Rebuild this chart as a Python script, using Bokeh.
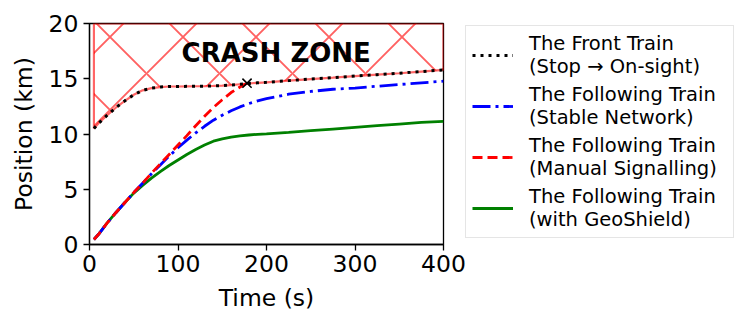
from bokeh.plotting import figure
from bokeh.models import Legend, LegendItem, FixedTicker
from bokeh.core.properties import value
from bokeh.embed import file_html
from bokeh.resources import INLINE

# ---- data ----
t_front = [5, 10, 20, 30, 40, 50, 60, 70, 80, 90, 100, 110, 120, 130, 140, 150,
           160, 170, 180, 190, 200, 225, 250, 275, 300, 325, 350, 375, 400]
front = [10.5, 10.95, 11.7, 12.4, 13.0, 13.55, 13.95, 14.15, 14.25, 14.3, 14.3, 14.31,
         14.32, 14.33, 14.35, 14.38, 14.43, 14.5, 14.57, 14.63, 14.68, 14.83, 14.97,
         15.1, 15.24, 15.37, 15.5, 15.65, 15.8]

t_follow = [5, 10, 20, 30, 40, 50, 60, 70, 80, 90, 100, 110, 120, 130, 140, 150,
            160, 170, 180, 190, 200, 225, 250, 275, 300, 325, 350, 375, 400]
stable = [0.45, 0.9, 1.95, 2.9, 3.8, 4.7, 5.55, 6.4, 7.2, 8.0, 8.75, 9.45, 10.1, 10.7,
          11.25, 11.7, 12.1, 12.45, 12.75, 13.0, 13.2, 13.6, 13.85, 14.05, 14.15,
          14.32, 14.48, 14.63, 14.78]
geoshield = [0.45, 0.9, 1.95, 2.9, 3.8, 4.65, 5.35, 6.0, 6.6, 7.15, 7.65, 8.15, 8.6,
             9.0, 9.35, 9.55, 9.72, 9.83, 9.91, 9.97, 10.02, 10.15, 10.3, 10.45, 10.6,
             10.75, 10.9, 11.05, 11.15]

t_manual = [5, 10, 20, 30, 40, 50, 60, 70, 80, 90, 100, 110, 120, 130, 140, 150,
            160, 170, 178]
manual = [0.45, 0.9, 1.95, 2.9, 3.8, 4.7, 5.55, 6.45, 7.3, 8.15, 9.0, 9.85, 10.75,
          11.6, 12.4, 13.1, 13.75, 14.25, 14.6]

crash_t = [178]
crash_y = [14.6]

zone_top = 20
zone_label = "CRASH ZONE"
zone_label_pos = (211, 17.3)

x_ticks = [0, 100, 200, 300, 400]
y_ticks = [0, 5, 10, 15, 20]

labels = ["The Front Train\n(Stop \u2192 On-sight)",
          "The Following Train\n(Stable Network)",
          "The Following Train\n(Manual Signalling)",
          "The Following Train\n(with GeoShield)"]

FONT = "DejaVu Sans"

p = figure(frame_width=354, frame_height=221, min_border_left=89, min_border_right=304,
           min_border_top=23, min_border_bottom=82,
           x_range=(0, 400), y_range=(0, 20),
           output_backend="svg", toolbar_location=None)

p.xgrid.visible = False
p.ygrid.visible = False
p.outline_line_color = "black"
p.outline_line_width = 1.3
p.background_fill_color = "white"
p.border_fill_color = "white"

# crash zone (hatched)
zx = t_front + [t_front[-1], t_front[0]]
zy = front + [zone_top, zone_top]
p.patch(zx, zy, fill_color=None, hatch_pattern="x",
        hatch_color="red", hatch_alpha=0.62, hatch_scale=73, hatch_weight=1.9,
        line_color="red", line_alpha=0.6, line_width=2.2)

lw = 2.8
g_geo = p.line(t_follow, geoshield, line_color="green", line_width=lw)
g_stable = p.line(t_follow, stable, line_color="blue", line_width=lw,
                  line_dash=[18, 5, 3, 5])
g_manual = p.line(t_manual, manual, line_color="red", line_width=lw,
                  line_dash=[10, 5])
g_front = p.line(t_front, front, line_color="black", line_width=3,
                 line_dash=[3, 5])

p.scatter(crash_t, crash_y, marker="x", size=13, line_color="black", line_width=1.6)

p.text(x=[zone_label_pos[0]], y=[zone_label_pos[1]], text=[zone_label],
       text_font=value(FONT), text_font_size="26px", text_font_style="bold",
       text_align="center", text_baseline="middle", text_color="black")

for ax in (p.xaxis[0], p.yaxis[0]):
    ax.axis_line_width = 1.3
    ax.major_tick_line_width = 1.3
    ax.major_tick_out = 6
    ax.major_tick_in = 0
    ax.minor_tick_out = 0
    ax.minor_tick_in = 0
    ax.major_label_text_font = FONT
    ax.major_label_text_font_size = "23.5px"
    ax.major_label_text_color = "black"
    ax.axis_label_text_font = FONT
    ax.axis_label_text_font_size = "23.5px"
    ax.axis_label_text_font_style = "normal"
    ax.axis_label_text_color = "black"

p.xaxis.ticker = FixedTicker(ticks=x_ticks)
p.yaxis.ticker = FixedTicker(ticks=y_ticks)
p.xaxis.axis_label = "Time (s)"
p.yaxis.axis_label = "Position (km)"
p.xaxis.major_label_standoff = 4
p.yaxis.major_label_standoff = 5
p.xaxis.axis_label_standoff = 9
p.yaxis.axis_label_standoff = 8

legend = Legend(items=[LegendItem(label=labels[0], renderers=[g_front]),
                       LegendItem(label=labels[1], renderers=[g_stable]),
                       LegendItem(label=labels[2], renderers=[g_manual]),
                       LegendItem(label=labels[3], renderers=[g_geo])],
                location=(22, 6))
legend.label_text_font = FONT
legend.label_text_font_size = "19.5px"
legend.label_text_color = "black"
legend.label_text_line_height = 1.1
legend.label_standoff = 16
legend.label_width = 198
legend.glyph_width = 41
legend.glyph_height = 40
legend.spacing = 5
legend.padding = 6
legend.margin = 0
legend.border_line_color = "#cccccc"
legend.border_line_width = 1.3
legend.background_fill_alpha = 1.0
p.add_layout(legend, "right")

open("out.html", "w").write(file_html(p, INLINE))
